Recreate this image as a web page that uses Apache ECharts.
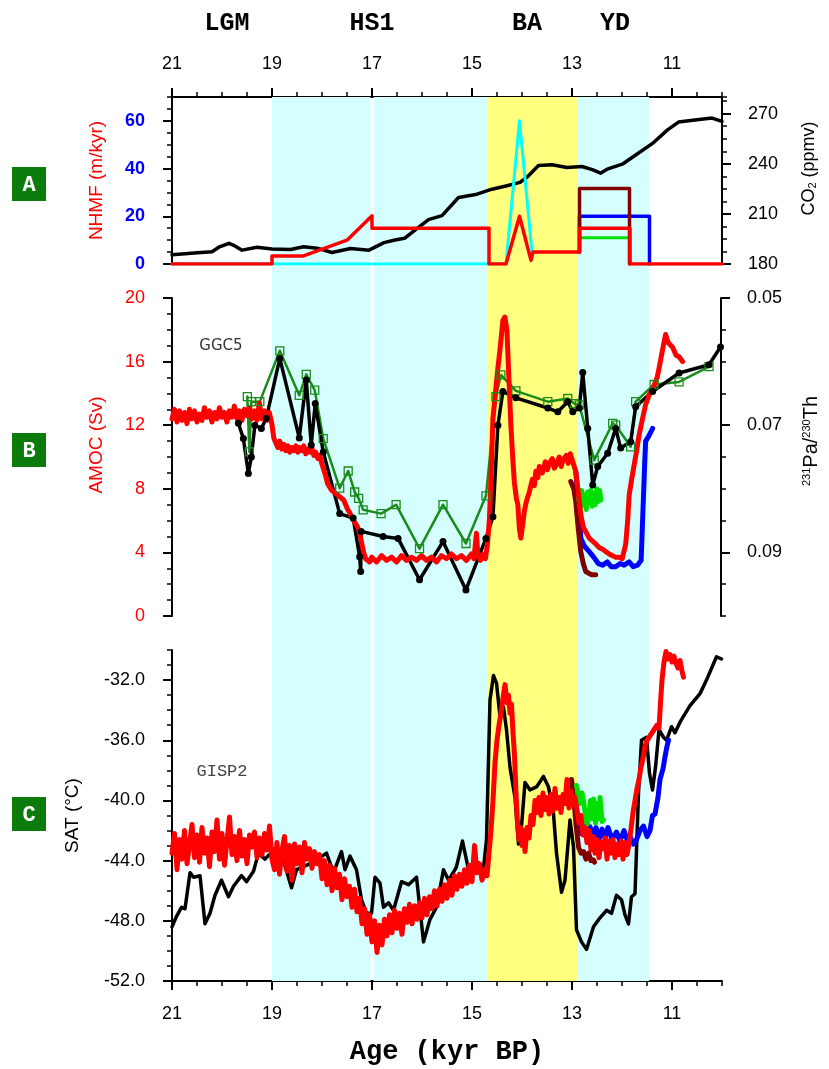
<!DOCTYPE html>
<html><head><meta charset="utf-8">
<script src="https://cdn.jsdelivr.net/npm/echarts@6/dist/echarts.min.js"></script>
<style>html,body{margin:0;padding:0;background:#fff}#c{width:829px;height:1069px}</style>
</head><body><div id="c"></div><script>
// ---------------- data ----------------
const X_MIN = 10, X_MAX = 21;
const xMajorTicks = [21, 19, 17, 15, 13, 11];
const eventLabels = ['LGM', 'HS1', 'BA', 'YD'];
const eventAges = [19.9, 17.0, 13.9, 12.14];
const cyanBands = [[19.0, 17.03], [16.97, 14.68], [12.88, 11.46]];
const yellowBands = [[14.68, 12.88]];

const nhmfTicks = [0, 20, 40, 60];
const co2Ticks = [180, 210, 240, 270];
const amocTicks = [0, 4, 8, 12, 16, 20];
const pathTicks = [0.05, 0.07, 0.09];
const satTicks = [-52, -48, -44, -40, -36, -32];

// Panel A: CO2 (ppmv) and NHMF (m/kyr)
const co2 = [[21.0,185.5],[20.49,186.7],[20.2,187.3],[20.05,190.3],[19.86,192.4],[19.75,191],[19.6,188.3],[19.3,190],[19.0,189],[18.63,188.7],[18.37,190.3],[18.1,189.5],[17.8,186.9],[17.43,189.3],[17.06,188.3],[16.76,192.8],[16.54,194.4],[16.35,195.4],[16.09,201.5],[15.87,206.6],[15.6,209],[15.27,219.8],[14.9,221.8],[14.6,224.8],[14.3,226.9],[14.04,228.9],[13.9,232],[13.67,239],[13.4,239.4],[13.1,237.8],[12.8,238.4],[12.58,236.4],[12.43,234.4],[12.28,237],[11.98,240],[11.69,246],[11.39,252.2],[11.09,260.3],[10.87,265],[10.5,266.4],[10.2,267.4],[10.0,265.4]];
const nhmfCyan = [[21,0],[14.32,0],[14.05,60],[13.8,5]];
const nhmfGreen = [[12.85,5],[12.85,11],[11.85,11],[11.85,0]];
const nhmfBlue = [[12.85,5],[12.85,20],[11.45,20],[11.45,0]];
const nhmfBrown = [[12.85,5],[12.85,31.6],[11.85,31.6],[11.85,0]];
const nhmfRed = [[21,0],[19,0],[19,3.4],[18.37,3.4],[17.5,10],[17.0,20.2],[17.0,15],[14.66,15],[14.66,0],[14.32,0],[14.05,20],[13.82,1.5],[13.78,5],[12.85,5],[12.85,15],[11.84,15],[11.84,0],[10,0]];

// Panel B: AMOC (Sv) and 231Pa/230Th
const ggc5 = [[19.49,0.0655],[19.45,0.0742],[19.41,0.0663],[19.24,0.0663],[18.84,0.0583],[18.45,0.0653],[18.31,0.0620],[18.14,0.0645],[17.97,0.0721],[17.64,0.0799],[17.47,0.0772],[17.34,0.0805],[17.26,0.0815],[17.17,0.0833],[16.81,0.0839],[16.51,0.0825],[16.04,0.0894],[15.57,0.0825],[15.11,0.0886],[14.71,0.0811],[14.51,0.0655],[14.41,0.0621],[14.11,0.0646],[13.47,0.0663],[13.07,0.0658],[12.94,0.0666],[12.84,0.0668],[12.54,0.0755],[12.17,0.0697],[12.11,0.0700],[11.81,0.0734],[11.71,0.0663],[11.34,0.0636],[10.84,0.0632],[10.24,0.0608]];
const pathBlack = [[19.67,0.0697],[19.57,0.0721],[19.47,0.0776],[19.41,0.0750],[19.34,0.0700],[19.21,0.0705],[19.11,0.0689],[18.84,0.0595],[18.45,0.0720],[18.31,0.0629],[18.21,0.0731],[18.13,0.0666],[17.97,0.0742],[17.64,0.0839],[17.37,0.0846],[17.24,0.0907],[17.22,0.0930],[17.21,0.0867],[16.77,0.0875],[16.47,0.0878],[16.04,0.0943],[15.57,0.0883],[15.11,0.0959],[14.71,0.0878],[14.57,0.0844],[14.47,0.0700],[14.37,0.0647],[14.11,0.0657],[13.47,0.0673],[13.27,0.0679],[13.07,0.0663],[12.97,0.0679],[12.84,0.0673],[12.77,0.0617],[12.67,0.0705],[12.57,0.0794],[12.47,0.0765],[12.27,0.0744],[12.11,0.0705],[12.01,0.0736],[11.81,0.0726],[11.71,0.0671],[11.37,0.0647],[10.84,0.0618],[10.24,0.0605],[10.01,0.0577]];
const amocRed = [[21.00,12.4],[20.95,13.0],[20.90,12.2],[20.85,12.9],[20.80,12.3],[20.75,12.8],[20.70,12.1],[20.65,13.0],[20.60,12.4],[20.55,12.9],[20.50,12.2],[20.45,12.7],[20.40,12.3],[20.35,13.1],[20.30,12.5],[20.25,12.9],[20.20,12.2],[20.15,12.8],[20.10,12.4],[20.05,13.1],[20.00,12.5],[19.95,12.8],[19.90,12.2],[19.85,12.9],[19.80,12.5],[19.75,13.2],[19.70,12.4],[19.65,12.9],[19.60,12.3],[19.55,13.0],[19.50,12.6],[19.45,13.1],[19.40,12.4],[19.35,12.9],[19.30,12.3],[19.25,13.4],[19.20,12.4],[19.15,12.9],[19.10,12.3],[19.05,12.8],[19.00,12.1],[18.96,11.2],[18.92,10.9],[18.88,10.6],[18.84,11.0],[18.80,10.5],[18.76,10.8],[18.72,10.4],[18.68,10.7],[18.64,10.3],[18.60,10.6],[18.56,10.4],[18.52,10.7],[18.48,10.3],[18.44,10.6],[18.40,10.4],[18.36,10.7],[18.32,10.2],[18.28,10.5],[18.24,10.3],[18.20,10.6],[18.16,10.1],[18.12,10.3],[18.08,9.9],[18.04,10.1],[18.00,9.6],[17.96,9.2],[17.92,8.8],[17.88,8.3],[17.84,8.1],[17.80,7.9],[17.76,8.0],[17.72,7.7],[17.68,7.8],[17.64,7.5],[17.60,7.6],[17.56,7.3],[17.52,7.0],[17.48,6.7],[17.44,6.5],[17.40,6.2],[17.36,6.0],[17.32,5.8],[17.28,5.6],[17.24,5.2],[17.20,4.6],[17.16,4.0],[17.12,3.6],[17.08,3.5],[17.04,3.4],[17.00,3.7],[16.90,3.4],[16.80,3.8],[16.70,3.5],[16.60,3.7],[16.50,3.4],[16.40,3.8],[16.30,3.5],[16.20,3.7],[16.10,3.5],[16.00,3.8],[15.90,3.5],[15.80,3.7],[15.70,3.4],[15.60,3.8],[15.50,3.6],[15.40,3.9],[15.30,3.6],[15.20,3.8],[15.10,3.5],[15.00,3.9],[14.95,3.6],[14.90,5.2],[14.87,3.8],[14.82,3.5],[14.77,3.9],[14.72,3.6],[14.68,4.5],[14.64,6.1],[14.60,9.5],[14.57,12.4],[14.52,14.0],[14.47,15.6],[14.42,17.0],[14.37,18.6],[14.33,18.8],[14.29,18.0],[14.25,15.0],[14.21,12.0],[14.17,9.8],[14.14,8.4],[14.10,7.4],[14.07,7.0],[14.04,5.5],[14.01,4.9],[13.98,5.6],[13.94,6.6],[13.90,7.2],[13.84,7.8],[13.78,8.6],[13.74,8.2],[13.71,9.1],[13.67,8.7],[13.64,9.4],[13.58,9.0],[13.52,9.7],[13.48,9.2],[13.44,9.6],[13.38,9.9],[13.34,9.3],[13.30,9.5],[13.24,10.0],[13.20,9.4],[13.17,9.8],[13.10,10.1],[13.06,9.6],[13.02,10.2],[12.98,9.8],[12.91,9.1],[12.86,7.8],[12.81,6.4],[12.76,5.6],[12.71,5.3],[12.64,4.9],[12.57,4.7],[12.50,4.5],[12.44,4.3],[12.37,4.2],[12.31,4.05],[12.24,3.9],[12.18,3.8],[12.11,3.7],[12.04,3.7],[11.98,3.6],[11.94,3.6],[11.91,4.5],[11.87,6.0],[11.84,7.6],[11.79,8.6],[11.74,9.5],[11.69,10.4],[11.64,11.4],[11.58,12.3],[11.51,13.3],[11.44,13.9],[11.34,14.5],[11.28,15.0],[11.24,15.6],[11.18,16.6],[11.11,17.7],[11.06,17.2],[10.97,16.9],[10.90,16.4],[10.84,16.3],[10.77,16.0]];
const amocBlue = [[12.91,9.1],[12.85,7.0],[12.81,4.9],[12.74,4.4],[12.64,4.05],[12.55,3.7],[12.46,3.3],[12.37,3.2],[12.28,3.4],[12.20,3.1],[12.11,3.1],[12.02,3.3],[11.94,3.2],[11.84,3.4],[11.76,3.1],[11.67,3.2],[11.60,3.5],[11.57,6.1],[11.53,9.5],[11.51,11.0],[11.45,11.3],[11.37,11.8]];
const amocBrown = [[13.01,8.45],[12.95,8.0],[12.91,7.2],[12.86,5.5],[12.81,4.05],[12.76,3.3],[12.71,2.8],[12.60,2.6],[12.51,2.6]];
const amocGreen = [[12.85,7.4],[12.82,6.8],[12.79,7.9],[12.76,7.0],[12.73,7.6],[12.70,6.7],[12.67,7.8],[12.64,7.1],[12.61,7.9],[12.58,6.9],[12.55,7.7],[12.52,7.0],[12.49,8.0],[12.46,7.2],[12.43,7.9],[12.41,7.3]];

// Panel C: SAT (deg C)
const gisp2 = [[21.0,-48.4],[20.91,-47.7],[20.81,-47.1],[20.74,-47.2],[20.64,-44.8],[20.57,-45.1],[20.44,-45.0],[20.34,-48.2],[20.24,-47.5],[20.14,-46.3],[20.01,-45.3],[19.87,-46.4],[19.77,-45.7],[19.61,-45.0],[19.51,-45.4],[19.37,-44.7],[19.27,-43.5],[19.14,-43.9],[18.94,-43.2],[18.77,-44.0],[18.61,-45.8],[18.51,-44.6],[18.37,-44.4],[18.17,-44.1],[17.91,-43.5],[17.77,-44.8],[17.61,-43.4],[17.54,-44.6],[17.44,-43.7],[17.31,-44.6],[17.21,-46.6],[17.11,-47.5],[17.01,-47.5],[16.94,-45.1],[16.84,-45.5],[16.77,-47.1],[16.67,-46.8],[16.57,-47.3],[16.41,-45.4],[16.27,-45.6],[16.11,-45.1],[15.97,-49.4],[15.84,-47.9],[15.71,-47.1],[15.57,-44.6],[15.47,-45.3],[15.34,-44.6],[15.31,-44.4],[15.19,-42.7],[15.07,-44.6],[14.94,-44.8],[14.77,-44.5],[14.71,-42.6],[14.64,-33.3],[14.57,-31.7],[14.51,-32.2],[14.44,-34.4],[14.37,-33.8],[14.31,-35.3],[14.24,-37.8],[14.14,-39.8],[14.07,-42.9],[14.01,-41.7],[13.94,-38.8],[13.84,-39.3],[13.71,-39.1],[13.57,-38.4],[13.47,-39.1],[13.37,-40.9],[13.31,-43.5],[13.21,-46.1],[13.14,-45.3],[13.04,-41.3],[12.97,-43.1],[12.91,-48.6],[12.81,-49.4],[12.71,-49.9],[12.57,-48.4],[12.44,-47.8],[12.31,-47.3],[12.21,-47.5],[12.11,-46.3],[12.01,-46.6],[11.94,-47.6],[11.87,-48.2],[11.81,-46.4],[11.74,-46.2],[11.67,-39.5],[11.61,-36.0],[11.51,-35.8],[11.45,-38.2],[11.39,-39.3],[11.33,-37.8],[11.26,-35.3],[11.17,-35.8],[11.11,-36.0],[11.01,-35.1],[10.94,-35.5],[10.84,-34.8],[10.64,-33.7],[10.44,-32.9],[10.31,-32.0],[10.11,-30.45],[10.01,-30.6]];
const satRed = [[21.00,-43.5],[20.95,-42.2],[20.90,-44.6],[20.85,-42.6],[20.80,-43.9],[20.75,-42.0],[20.70,-44.2],[20.65,-42.9],[20.60,-41.6],[20.55,-43.8],[20.50,-42.3],[20.45,-44.1],[20.40,-41.8],[20.35,-43.5],[20.30,-42.5],[20.25,-44.4],[20.20,-42.1],[20.15,-43.4],[20.10,-41.3],[20.05,-43.9],[20.00,-42.2],[19.95,-44.3],[19.90,-42.7],[19.85,-41.1],[19.80,-43.6],[19.75,-42.4],[19.70,-44.0],[19.65,-42.0],[19.60,-43.7],[19.55,-42.6],[19.50,-44.2],[19.45,-42.3],[19.40,-43.1],[19.35,-42.1],[19.30,-43.8],[19.25,-42.5],[19.20,-43.6],[19.15,-42.2],[19.10,-43.3],[19.05,-41.7],[19.00,-43.9],[18.95,-44.6],[18.90,-42.8],[18.85,-44.9],[18.80,-43.3],[18.75,-42.4],[18.70,-44.7],[18.65,-43.0],[18.60,-45.3],[18.55,-42.9],[18.50,-44.2],[18.45,-43.1],[18.40,-44.8],[18.35,-42.8],[18.30,-43.9],[18.25,-43.2],[18.20,-44.5],[18.15,-43.4],[18.10,-44.2],[18.05,-43.6],[18.00,-45.2],[17.95,-44.0],[17.90,-45.6],[17.85,-44.3],[17.80,-46.0],[17.75,-44.5],[17.70,-45.8],[17.65,-44.9],[17.60,-46.6],[17.55,-45.2],[17.50,-46.4],[17.45,-45.7],[17.40,-47.1],[17.35,-45.9],[17.30,-47.4],[17.25,-46.5],[17.20,-48.2],[17.15,-47.2],[17.10,-48.9],[17.05,-47.6],[17.00,-49.4],[16.95,-48.0],[16.90,-50.1],[16.85,-48.3],[16.80,-49.6],[16.75,-47.9],[16.70,-49.0],[16.65,-47.6],[16.60,-48.8],[16.55,-47.3],[16.50,-48.5],[16.45,-47.5],[16.40,-48.9],[16.35,-47.2],[16.30,-48.1],[16.25,-46.9],[16.20,-48.2],[16.15,-47.0],[16.10,-47.9],[16.05,-46.8],[16.00,-47.8],[15.95,-46.5],[15.90,-47.6],[15.85,-46.4],[15.80,-47.2],[15.75,-46.0],[15.70,-47.0],[15.65,-45.9],[15.60,-46.7],[15.55,-45.6],[15.50,-46.5],[15.45,-45.3],[15.40,-46.3],[15.35,-45.0],[15.30,-45.9],[15.25,-44.9],[15.20,-45.7],[15.15,-44.6],[15.10,-45.5],[15.05,-44.3],[15.00,-45.4],[14.95,-43.0],[14.90,-44.8],[14.85,-44.2],[14.80,-45.3],[14.75,-44.6],[14.70,-45.0],[14.66,-43.5],[14.62,-42.0],[14.58,-40.0],[14.54,-37.5],[14.50,-36.0],[14.46,-35.0],[14.42,-34.2],[14.38,-33.2],[14.34,-32.3],[14.30,-33.5],[14.27,-33.0],[14.24,-34.2],[14.21,-33.6],[14.18,-35.5],[14.15,-37.0],[14.12,-39.5],[14.09,-41.5],[14.06,-42.6],[14.03,-41.8],[14.00,-43.0],[13.97,-42.0],[13.94,-43.4],[13.90,-41.8],[13.86,-42.5],[13.82,-41.0],[13.78,-41.6],[13.74,-40.0],[13.70,-40.8],[13.66,-39.8],[13.62,-41.0],[13.58,-39.5],[13.54,-40.6],[13.50,-39.8],[13.46,-40.9],[13.42,-39.6],[13.38,-40.7],[13.34,-39.2],[13.30,-40.5],[13.26,-39.8],[13.22,-40.8],[13.18,-39.6],[13.14,-40.2],[13.10,-38.6],[13.06,-40.5],[13.02,-39.4],[12.98,-40.3],[12.94,-39.8],[12.90,-40.6],[12.86,-41.5],[12.82,-41.0],[12.78,-42.3],[12.74,-41.8],[12.70,-42.8],[12.66,-42.0],[12.62,-43.3],[12.58,-42.4],[12.54,-43.5],[12.50,-42.6],[12.46,-43.8],[12.42,-42.8],[12.38,-43.2],[12.34,-42.5],[12.30,-43.9],[12.26,-42.7],[12.22,-43.5],[12.18,-42.6],[12.14,-43.8],[12.10,-42.9],[12.06,-43.6],[12.02,-42.7],[11.98,-43.9],[11.94,-42.8],[11.90,-43.6],[11.86,-42.9],[11.82,-41.9],[11.78,-40.8],[11.74,-40.0],[11.70,-39.2],[11.66,-38.6],[11.62,-37.8],[11.58,-37.2],[11.54,-36.4],[11.50,-36.0],[11.46,-35.8],[11.42,-35.6],[11.38,-35.4],[11.34,-35.3],[11.30,-35.0],[11.26,-35.2],[11.23,-33.5],[11.20,-32.0],[11.16,-30.8],[11.12,-30.1],[11.08,-30.6],[11.04,-30.3],[11.00,-30.8],[10.96,-30.4],[10.92,-30.9],[10.88,-31.2],[10.84,-30.7],[10.80,-31.4],[10.77,-31.8]];
const satBlue = [[12.91,-41.3],[12.86,-42.0],[12.81,-42.2],[12.74,-41.7],[12.68,-42.5],[12.64,-41.75],[12.58,-42.4],[12.52,-41.8],[12.46,-42.6],[12.40,-41.9],[12.34,-42.5],[12.28,-41.8],[12.20,-42.6],[12.11,-42.1],[12.04,-42.7],[11.96,-42.0],[11.90,-42.6],[11.84,-42.4],[11.77,-42.9],[11.71,-42.6],[11.64,-42.0],[11.57,-41.7],[11.50,-42.4],[11.44,-42.0],[11.39,-41.0],[11.34,-40.9],[11.28,-39.8],[11.24,-38.6],[11.18,-37.9],[11.14,-37.1],[11.10,-36.4],[11.07,-36.0]];
const satBrown = [[13.01,-38.6],[12.96,-40.0],[12.92,-41.6],[12.87,-43.1],[12.82,-43.5],[12.77,-43.4],[12.72,-43.9],[12.67,-43.5],[12.62,-44.0],[12.57,-43.96],[12.55,-44.1]];
const satGreen = [[12.91,-39.0],[12.87,-39.1],[12.84,-40.2],[12.80,-39.5],[12.77,-40.0],[12.73,-41.0],[12.70,-41.6],[12.67,-41.3],[12.63,-40.0],[12.60,-41.2],[12.57,-39.9],[12.53,-41.5],[12.50,-40.2],[12.47,-41.2],[12.44,-39.8],[12.40,-41.4],[12.37,-41.3]];

// ---------------- styles ----------------
const C_RED = '#ff0000', C_BLUE = '#0000ff', C_BROWN = '#800000', C_GREEN = '#00e000', C_CYAN = '#00ffff', C_DKGREEN = '#1a8c1a';
const C_SHADE_CYAN = '#d5ffff', C_SHADE_YEL = '#ffff80', C_BOX = '#0b7c0b';
const NUM_FONT = 'Liberation Sans, Arial, sans-serif';
const MONO = 'Liberation Mono, Courier New, monospace';

const grids = [
  {left: 172, right: 107, top: 97, height: 167, show: true, borderColor: '#000', borderWidth: 2, backgroundColor: 'transparent'},
  {left: 172, right: 107, top: 298, height: 318},
  {left: 172, right: 107, top: 650, height: 331},
  {left: 172, right: 107, top: 97, height: 884}
];

function minorAxis(o) {
  return Object.assign({
    type: 'value',
    axisLine: {show: true, onZero: false, lineStyle: {color: '#000', width: 2}},
    axisTick: {show: true, length: 5, lineStyle: {color: '#000', width: 1.5}},
    axisLabel: {show: false},
    splitLine: {show: false}
  }, o);
}
function majorAxis(o, ticks, label) {
  return Object.assign({
    type: 'value',
    axisLine: {show: false, onZero: false},
    axisTick: {show: true, length: 9, customValues: ticks, lineStyle: {color: '#000', width: 2}},
    axisLabel: Object.assign({show: true, customValues: ticks, fontFamily: NUM_FONT, fontSize: 18, color: '#000'}, label),
    splitLine: {show: false}
  }, o);
}
const xBase = {min: X_MIN, max: X_MAX, inverse: true};

const xAxes = [
  minorAxis(Object.assign({gridIndex: 0, position: 'top', interval: 0.5}, xBase)),
  majorAxis(Object.assign({gridIndex: 0, position: 'top'}, xBase), xMajorTicks, {margin: 24}),
  Object.assign({gridIndex: 1, type: 'value', show: false}, xBase),
  minorAxis(Object.assign({gridIndex: 2, position: 'bottom', interval: 0.5}, xBase)),
  majorAxis(Object.assign({gridIndex: 2, position: 'bottom', name: 'Age (kyr BP)', nameLocation: 'middle', nameGap: 58,
    nameTextStyle: {fontFamily: MONO, fontWeight: 'bold', fontSize: 27, color: '#000'}}, xBase), xMajorTicks, {margin: 24}),
  Object.assign({gridIndex: 3, type: 'value', show: false}, xBase)
];

const yAxes = [
  minorAxis({gridIndex: 0, position: 'left', min: 0, max: 70, interval: 5}),
  majorAxis({gridIndex: 0, position: 'left', min: 0, max: 70, name: 'NHMF (m/kyr)', nameLocation: 'middle', nameGap: 66,
    nameTextStyle: {color: C_RED, fontFamily: NUM_FONT, fontSize: 19}}, nhmfTicks, {color: C_BLUE, fontWeight: 'bold', margin: 27}),
  minorAxis({gridIndex: 0, position: 'right', min: 180, max: 280, interval: 7.5}),
  majorAxis({gridIndex: 0, position: 'right', min: 180, max: 280, name: '{a|CO}{s|2}{a| (ppmv)}', nameLocation: 'middle', nameGap: 78,
    nameTextStyle: {padding: [0, 0, 0, 24], rich: {a: {fontFamily: NUM_FONT, fontSize: 18, color: '#000'}, s: {fontFamily: NUM_FONT, fontSize: 11, color: '#000', verticalAlign: 'bottom'}}}}, co2Ticks, {margin: 26}),
  minorAxis({gridIndex: 1, position: 'left', min: 0, max: 20, interval: 1}),
  majorAxis({gridIndex: 1, position: 'left', min: 0, max: 20, name: 'AMOC (Sv)', nameLocation: 'middle', nameGap: 66,
    nameTextStyle: {color: C_RED, fontFamily: NUM_FONT, fontSize: 19, padding: [0, 0, 0, 24]}}, amocTicks, {color: C_RED, margin: 27}),
  minorAxis({gridIndex: 1, position: 'right', min: 0.05, max: 0.10, interval: 0.005, inverse: true}),
  majorAxis({gridIndex: 1, position: 'right', min: 0.05, max: 0.10, inverse: true, name: '{s|231}{a|Pa/}{s|230}{a|Th}', nameLocation: 'middle', nameGap: 80,
    nameTextStyle: {padding: [0, 0, 0, 32], rich: {a: {fontFamily: NUM_FONT, fontSize: 20, color: '#000'}, s: {fontFamily: NUM_FONT, fontSize: 11, color: '#000', verticalAlign: 'top'}}}}, pathTicks, {margin: 26, formatter: v => v.toFixed(2)}),
  minorAxis({gridIndex: 2, position: 'left', min: -52, max: -30, interval: 1}),
  majorAxis({gridIndex: 2, position: 'left', min: -52, max: -30, name: 'SAT (\u00B0C)', nameLocation: 'middle', nameGap: 90,
    nameTextStyle: {color: '#000', fontFamily: NUM_FONT, fontSize: 19}}, satTicks, {margin: 27, formatter: v => v.toFixed(1)}),
  {gridIndex: 3, type: 'value', show: false, min: 0, max: 1}
];

function line(data, x, y, color, width, extra) {
  return Object.assign({type: 'line', data: data, xAxisIndex: x, yAxisIndex: y, symbol: 'none',
    lineStyle: {color: color, width: width, join: 'round', cap: 'round'}, itemStyle: {color: color},
    silent: true, animation: false, z: 3}, extra || {});
}

const bandData = cyanBands.map(b => [{xAxis: b[0], itemStyle: {color: C_SHADE_CYAN}}, {xAxis: b[1]}])
  .concat(yellowBands.map(b => [{xAxis: b[0], itemStyle: {color: C_SHADE_YEL}}, {xAxis: b[1]}]));

const series = [
  {type: 'line', xAxisIndex: 5, yAxisIndex: 10, data: [[X_MIN, 0]], symbol: 'none', lineStyle: {opacity: 0}, silent: true, z: 0,
    markArea: {silent: true, itemStyle: {opacity: 1}, data: bandData}},
  // Panel A
  line(co2, 0, 2, '#000', 3.5),
  line(nhmfCyan, 0, 0, C_CYAN, 3),
  line(nhmfGreen, 0, 0, C_GREEN, 3),
  line(nhmfBlue, 0, 0, C_BLUE, 3.5),
  line(nhmfBrown, 0, 0, C_BROWN, 3.5),
  line(nhmfRed, 0, 0, C_RED, 3.5),
  // Panel B
  line(ggc5, 2, 6, C_DKGREEN, 2.5, {symbol: 'rect', symbolSize: 8, showSymbol: true,
    itemStyle: {color: 'rgba(0,0,0,0)', borderColor: C_DKGREEN, borderWidth: 1.3}}),
  line(pathBlack, 2, 6, '#000', 3.5, {symbol: 'circle', symbolSize: 7, showSymbol: true, itemStyle: {color: '#000'}}),
  line(amocBlue, 2, 4, C_BLUE, 5),
  line(amocBrown, 2, 4, C_BROWN, 5),
  line(amocGreen, 2, 4, C_GREEN, 5),
  line(amocRed, 2, 4, C_RED, 5),
  // Panel C
  line(gisp2, 3, 8, '#000', 3.5),
  line(satBlue, 3, 8, C_BLUE, 5),
  line(satBrown, 3, 8, C_BROWN, 5),
  line(satGreen, 3, 8, C_GREEN, 5),
  line(satRed, 3, 8, C_RED, 5)
];

const chart = echarts.init(document.getElementById('c'), null, {renderer: 'canvas'});
chart.setOption({
  animation: false,
  backgroundColor: '#fff',
  grid: grids,
  xAxis: xAxes,
  yAxis: yAxes,
  series: series
});

// text annotations
const gfx = [];
eventLabels.forEach((t, i) => {
  const px = chart.convertToPixel({xAxisIndex: 5}, eventAges[i]);
  gfx.push({type: 'text', x: px, y: 24, style: {text: t, font: 'bold 25px ' + MONO, fill: '#000', align: 'center', verticalAlign: 'middle'}});
});
const boxes = [['A', 167], ['B', 433], ['C', 797]];
boxes.forEach(b => {
  gfx.push({type: 'rect', shape: {x: 12, y: b[1], width: 34, height: 34}, style: {fill: C_BOX}});
  gfx.push({type: 'text', x: 29, y: b[1] + 18, style: {text: b[0], font: 'bold 22px ' + MONO, fill: '#fff', align: 'center', verticalAlign: 'middle'}});
});
gfx.push({type: 'text', x: 221, y: 346, style: {text: 'GGC5', font: '15px DejaVu Sans, sans-serif', fill: '#333', align: 'center', verticalAlign: 'middle'}});
gfx.push({type: 'text', x: 222, y: 771, style: {text: 'GISP2', font: '17px ' + MONO, fill: '#444', align: 'center', verticalAlign: 'middle'}});
chart.setOption({graphic: gfx});
</script></body></html>
